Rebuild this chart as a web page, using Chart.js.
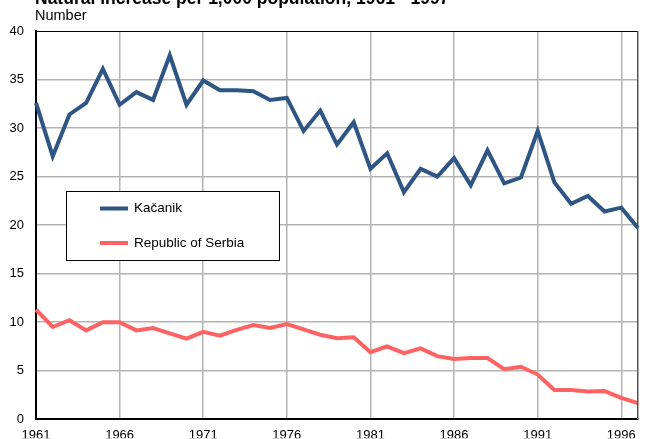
<!DOCTYPE html>
<html>
<head>
<meta charset="utf-8">
<title>Natural increase per 1,000 population</title>
<script src="https://cdn.jsdelivr.net/npm/chart.js@4.4.1/dist/chart.umd.min.js"></script>
<style>
    html, body { margin: 0; padding: 0; background: #ffffff; }
    #wrap { position: relative; width: 648px; height: 439px; overflow: hidden; }
</style>
</head>
<body>
<div id="wrap"><canvas id="increaseChart"></canvas></div>
<script>
// Years on the x axis
const years = [];
for (let y = 1961; y <= 1997; y++) years.push(String(y));

// Natural increase per 1,000 population
const kacanik = [32.6, 27.1, 31.4, 32.6, 36.1, 32.4, 33.7, 32.9, 37.5, 32.4,
                 34.9, 33.9, 33.9, 33.8, 32.9, 33.1, 29.7, 31.8, 28.3, 30.6,
                 25.8, 27.4, 23.4, 25.8, 25.0, 26.9, 24.1, 27.7, 24.3, 24.9,
                 29.7, 24.4, 22.2, 23.0, 21.4, 21.8, 19.7];
const serbia = [11.3, 9.5, 10.2, 9.15, 10.0, 10.0, 9.15, 9.4, 8.85, 8.3,
                9.0, 8.6, 9.2, 9.7, 9.4, 9.8, 9.25, 8.7, 8.35, 8.45,
                6.9, 7.5, 6.8, 7.3, 6.5, 6.2, 6.3, 6.3, 5.15, 5.4,
                4.6, 3.0, 3.0, 2.85, 2.9, 2.2, 1.65];

const seriesLabels = ['Kačanik', 'Republic of Serbia'];
const titleText = 'Natural increase per 1,000 population, 1961 - 1997';
const unitText = 'Number';

const FONT = '"Liberation Sans", Arial, sans-serif';

// Title, unit label, frame and the legend box drawn over the plot
const extrasPlugin = {
    id: 'extras',
    afterDatasetsDraw(chart) {
        const ctx = chart.ctx;
        const area = chart.chartArea;
        ctx.save();

        // top and right edge of the plot frame
        ctx.strokeStyle = '#000000';
        ctx.lineWidth = 1;
        ctx.beginPath();
        ctx.moveTo(area.left, area.top + 0.5);
        ctx.lineTo(area.right, area.top + 0.5);
        ctx.stroke();
        ctx.strokeStyle = '#555555';
        ctx.beginPath();
        ctx.moveTo(area.right - 0.5, area.top);
        ctx.lineTo(area.right - 0.5, area.bottom);
        ctx.stroke();

        // legend box inside the plot
        const bx = 66.5, by = 191.5, bw = 213, bh = 69;
        ctx.fillStyle = '#ffffff';
        ctx.fillRect(bx, by, bw, bh);
        ctx.strokeStyle = '#000000';
        ctx.lineWidth = 1;
        ctx.strokeRect(bx, by, bw, bh);

        const rows = [208.5, 243];
        chart.data.datasets.forEach((ds, i) => {
            ctx.strokeStyle = ds.borderColor;
            ctx.lineWidth = 4;
            ctx.beginPath();
            ctx.moveTo(100, rows[i]);
            ctx.lineTo(128, rows[i]);
            ctx.stroke();
            ctx.fillStyle = '#000000';
            ctx.font = '13.5px ' + FONT;
            ctx.textAlign = 'left';
            ctx.textBaseline = 'middle';
            ctx.fillText(ds.label, 134, rows[i]);
        });

        // title (partly cut off at the top) and unit label
        ctx.fillStyle = '#000000';
        ctx.textAlign = 'left';
        ctx.textBaseline = 'alphabetic';
        ctx.font = 'bold 17.5px ' + FONT;
        ctx.fillText(titleText, 35, 4);
        ctx.font = '14.5px ' + FONT;
        ctx.fillText(unitText, 35, 20);

        ctx.restore();
    }
};

document.addEventListener('DOMContentLoaded', function () {
    const ctx = document.getElementById('increaseChart').getContext('2d');

    new Chart(ctx, {
        type: 'line',
        data: {
            labels: years,
            datasets: [{
                label: seriesLabels[0],
                data: kacanik,
                borderColor: '#2e5584',
                borderWidth: 4,
                pointRadius: 0,
                tension: 0
            }, {
                label: seriesLabels[1],
                data: serbia,
                borderColor: '#ff6262',
                borderWidth: 4,
                pointRadius: 0,
                tension: 0
            }]
        },
        options: {
            responsive: true,
            maintainAspectRatio: false,
            animation: false,
            layout: { padding: { left: 0, right: 10, top: 31, bottom: 0 } },
            scales: {
                x: {
                    offset: false,
                    afterFit: function (scale) { scale.height = 19; },
                    grid: {
                        drawTicks: false,
                        lineWidth: 1.5,
                        color: function (c) {
                            const i = c.index;
                            if (i === 0) return 'rgba(0,0,0,0)';
                            if (i === years.length - 1) return '#555555';
                            return i % 5 === 0 ? '#b4b4b4' : 'rgba(0,0,0,0)';
                        }
                    },
                    border: { color: '#000000', width: 2 },
                    ticks: {
                        autoSkip: false,
                        maxRotation: 0,
                        padding: 8,
                        color: '#000000',
                        font: { family: FONT, size: 13 },
                        callback: function (value, index) {
                            return (index % 5 === 0 && index < years.length - 1) ? years[index] : '';
                        }
                    }
                },
                y: {
                    min: 0,
                    max: 40,
                    afterFit: function (scale) { scale.width = 36; },
                    grid: {
                        drawTicks: false,
                        lineWidth: function (c) { return c.tick && c.tick.value === 40 ? 1 : 1.5; },
                        color: function (c) {
                            if (c.tick.value === 0) return 'rgba(0,0,0,0)';
                            if (c.tick.value === 40) return '#000000';
                            return '#b4b4b4';
                        }
                    },
                    border: { color: '#000000', width: 2 },
                    ticks: {
                        stepSize: 5,
                        padding: 12,
                        color: '#000000',
                        font: { family: FONT, size: 13 }
                    }
                }
            },
            plugins: {
                legend: { display: false },
                title: { display: false },
                tooltip: { enabled: false }
            }
        },
        plugins: [extrasPlugin]
    });
});
</script>
</body>
</html>
